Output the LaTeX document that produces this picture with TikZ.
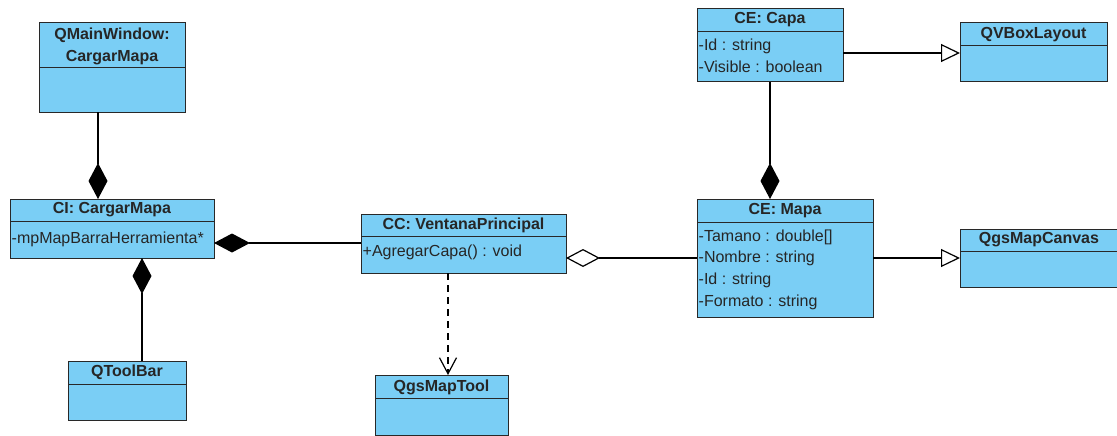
\documentclass[tikz,border=0pt]{standalone}
\usepackage{fontspec}
\newfontfamily\umlfont{Liberation Sans}
\usetikzlibrary{arrows.meta}
\definecolor{classfill}{RGB}{122,206,245}
\definecolor{classline}{RGB}{40,40,40}
\tikzset{
  x=1pt, y=1pt,
  classbox/.style={draw=classline, fill=classfill, line width=1pt, rectangle,
    inner sep=0pt, outer sep=0pt, anchor=north west},
  divider/.style={draw=classline, line width=1pt},
  title/.style={font=\umlfont\bfseries\fontsize{16}{18}\selectfont, inner sep=0pt, text=black!85},
  member/.style={font=\umlfont\fontsize{16}{18}\selectfont, inner sep=0pt, anchor=west, text=black!85},
  conn/.style={draw=black, line width=1.2pt},
  compo/.style={conn, -{Diamond[length=36pt, width=19pt, fill=black]}},
  aggr/.style={conn, -{Diamond[open, length=34pt, width=18pt, fill=white]}},
  gener/.style={conn, -{Triangle[open, length=19pt, width=18pt, fill=white]}},
  depend/.style={conn, dashed, dash pattern=on 7pt off 5pt, -{Straight Barb[length=16pt, width=17pt]}},
}
% class box: name, left, top, right, bottom, divider
\newcommand{\umlclass}[6]{%
  \node[classbox, minimum width={#4-#2}, minimum height={#5-#3}] (#1) at (#2,-#3) {};
  \draw[divider] (#2,-#6) -- (#4,-#6);
}
\begin{document}
\begin{tikzpicture}
\useasboundingbox (0,0) rectangle (1117,-436);

% classes
\umlclass{qmw}{39}{23}{185}{112}{68}
\node[title, align=center] at (112,-46) {QMainWindow:\\[4pt]CargarMapa};

\umlclass{ci}{10}{199}{214}{258}{221}
\node[title] at (112,-210) {CI: CargarMapa};
\node[member] at (11.5,-239) {-mpMapBarraHerramienta*};

\umlclass{qtb}{68}{361}{186}{420}{384}
\node[title] at (127,-372) {QToolBar};

\umlclass{vp}{361}{214}{566}{273}{236}
\node[title] at (463.5,-225) {CC: VentanaPrincipal};
\node[member] at (362.5,-252) {+AgregarCapa() : void};

\umlclass{qmt}{375}{375}{508}{435}{398}
\node[title] at (441.5,-387) {QgsMapTool};

\umlclass{capa}{697}{9}{843}{82}{32}
\node[title] at (770,-20) {CE: Capa};
\node[member] at (698.5,-46) {-Id : string};
\node[member] at (698.5,-67) {-Visible : boolean};

\umlclass{qvb}{960}{23}{1107}{82}{46}
\node[title] at (1033.5,-35) {QVBoxLayout};

\umlclass{mapa}{697}{199}{873}{317}{222}
\node[title] at (785,-211) {CE: Mapa};
\node[member] at (698.5,-237) {-Tamano : double[]};
\node[member] at (698.5,-258) {-Nombre : string};
\node[member] at (698.5,-280) {-Id : string};
\node[member] at (698.5,-302) {-Formato : string};

\umlclass{qmc}{960}{229}{1118}{287}{251}
\node[title] at (1039,-240) {QgsMapCanvas};

% connector guides
\coordinate (gA) at (98,0);
\coordinate (gB) at (142,0);
\coordinate (gC) at (0,-243);
\coordinate (gD) at (0,-258);
\coordinate (gE) at (448,0);
\coordinate (gF) at (770,0);
\coordinate (gG) at (0,-53);

% relations
\draw[compo] (qmw.south -| gA) -- (ci.north -| gA);
\draw[compo] (qtb.north -| gB) -- (ci.south -| gB);
\draw[compo] (vp.west |- gC) -- (ci.east |- gC);
\draw[aggr] (mapa.west |- gD) -- (vp.east |- gD);
\draw[depend] (vp.south -| gE) -- (qmt.north -| gE);
\draw[compo] (capa.south -| gF) -- (mapa.north -| gF);
\draw[gener] (capa.east |- gG) -- (qvb.west |- gG);
\draw[gener] (mapa.east |- gD) -- (qmc.west |- gD);
\end{tikzpicture}
\end{document}
